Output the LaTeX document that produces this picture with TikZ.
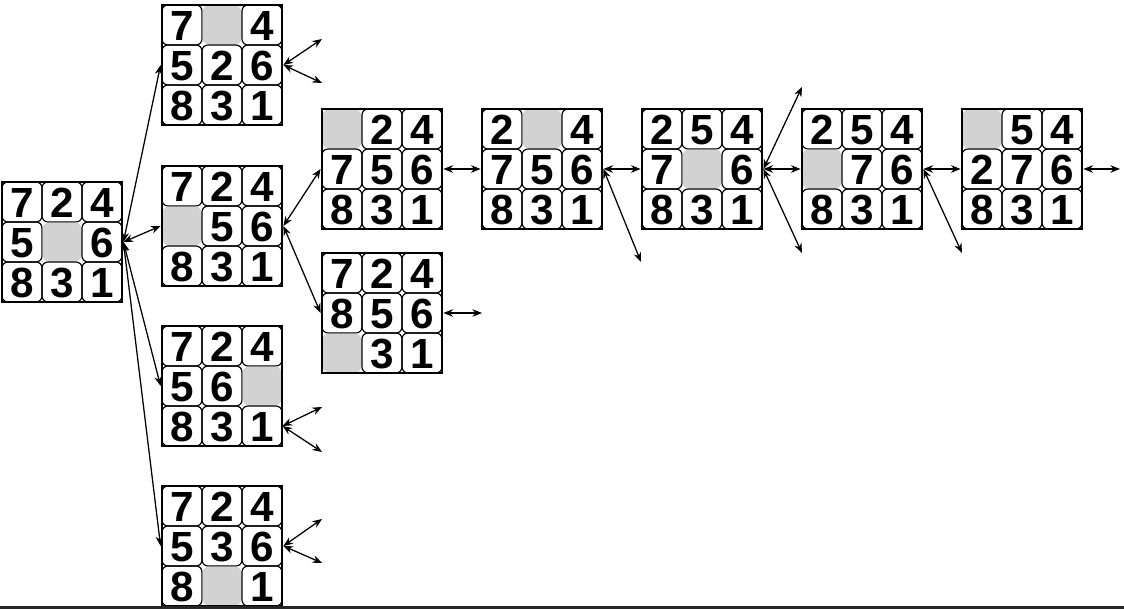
\documentclass[tikz,border=0pt]{standalone}
\usepackage{fontspec}
\newfontfamily\digitfont{Liberation Sans}
\usepackage{tikz}
\usetikzlibrary{positioning,arrows.meta,calc}

% one 8-puzzle board: name, left, top, nine entries (0 = empty square)
\newcommand{\puzzle}[4]{%
    \foreach \d [count=\k from 0] in {#4} {
        \pgfmathtruncatemacro{\col}{mod(\k,3)}
        \pgfmathtruncatemacro{\row}{int(\k/3)}
        \ifnum\d=0
            \node[blank] (#1-\k) at ({#2+\col+0.5},{#3+\row+0.5}) {};
        \else
            \node[tile] (#1-\k) at ({#2+\col+0.5},{#3+\row+0.5}) {\d};
        \fi
    }
    \node[board] (#1) at ({#2+1.5},{#3+1.5}) {};
}

\begin{document}
\begin{tikzpicture}[x=1cm,y=-1cm,
    tile/.style={draw, line width=0.8pt, rounded corners=0.15cm, minimum size=1cm,
        inner sep=0pt, text height=0.76cm, text depth=0pt,
        font=\digitfont\bfseries\fontsize{30}{30}\selectfont},
    blank/.style={fill=gray!35, rounded corners=0.15cm, minimum size=0.97cm, inner sep=0pt},
    board/.style={draw, line width=2pt, minimum size=3cm, inner sep=0pt},
    move/.style={{Stealth[length=2.4mm,width=1.9mm]}-{Stealth[length=2.4mm,width=1.9mm]}, line width=0.9pt}]
    \useasboundingbox (0,0) rectangle (28.1,15.225);

    % Boards
    \puzzle{root}{0.05}{4.55}{7,2,4,5,0,6,8,3,1}
    \puzzle{A}{4.05}{0.125}{7,0,4,5,2,6,8,3,1}
    \puzzle{B}{4.05}{4.15}{7,2,4,0,5,6,8,3,1}
    \puzzle{C}{4.05}{8.15}{7,2,4,5,6,0,8,3,1}
    \puzzle{D}{4.05}{12.15}{7,2,4,5,3,6,8,0,1}
    \puzzle{E}{8.05}{2.725}{0,2,4,7,5,6,8,3,1}
    \puzzle{F}{8.05}{6.325}{7,2,4,8,5,6,0,3,1}
    \puzzle{G}{12.05}{2.725}{2,0,4,7,5,6,8,3,1}
    \puzzle{H}{16.05}{2.725}{2,5,4,7,0,6,8,3,1}
    \puzzle{I}{20.05}{2.725}{2,5,4,0,7,6,8,3,1}
    \puzzle{J}{24.05}{2.725}{0,5,4,2,7,6,8,3,1}

    % Loose ends
    \coordinate (a1) at (8.05,0.975);
    \coordinate (a2) at (8.05,2.075);
    \coordinate (c1) at (8.05,10.175);
    \coordinate (c2) at (8.05,11.3);
    \coordinate (d1) at (8.05,12.975);
    \coordinate (d2) at (8.05,14.075);
    \coordinate (f1) at (12.05,7.825);
    \coordinate (g1) at (16.025,6.55);
    \coordinate (h1) at (20.05,2.175);
    \coordinate (h2) at (20.05,6.325);
    \coordinate (i1) at (24.05,6.325);
    \coordinate (j1) at (28.0,4.225);

    % Moves
    \draw[move] (root.east) -- (A.west);
    \draw[move] (root.east) -- (B.west);
    \draw[move] (root.east) -- (C.west);
    \draw[move] (root.east) -- (D.west);
    \draw[move] (A.east) -- (a1);
    \draw[move] (A.east) -- (a2);
    \draw[move] (B.east) -- (E.west);
    \draw[move] (B.east) -- (F.west);
    \draw[move] (C-8.east) -- (c1);
    \draw[move] (C-8.east) -- (c2);
    \draw[move] (D.east) -- (d1);
    \draw[move] (D.east) -- (d2);
    \draw[move] (E.east) -- (G.west);
    \draw[move] (F.east) -- (f1);
    \draw[move] (G.east) -- (H.west);
    \draw[move] (G.east) -- (g1);
    \draw[move] (H.east) -- (h1);
    \draw[move] (H.east) -- (I.west);
    \draw[move] (H.east) -- (h2);
    \draw[move] (I.east) -- (J.west);
    \draw[move] (I.east) -- (i1);
    \draw[move] (J.east) -- (j1);

    % Bottom edge
    \fill[black!85] (0,15.15) rectangle (28.1,15.225);
\end{tikzpicture}
\end{document}
